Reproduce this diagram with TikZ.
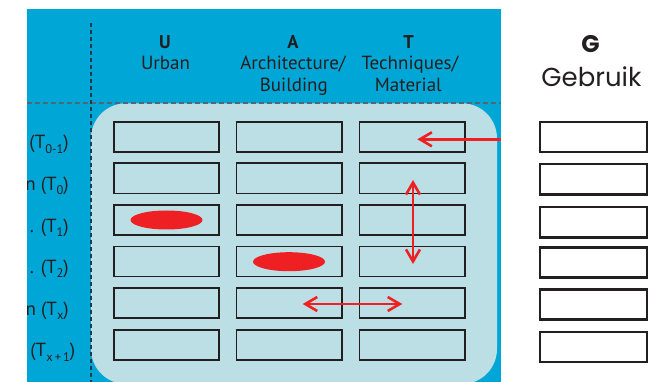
\documentclass[tikz,border=0pt]{standalone}
\usepackage{fontspec}
\setmainfont{PT Sans}
\newfontfamily\gfont{Poppins}
\usetikzlibrary{shapes.geometric,arrows.meta}
\definecolor{bgblue}{HTML}{00A6D6}
\definecolor{panel}{HTML}{BBDFE4}
\definecolor{redc}{HTML}{EE2024}
\definecolor{ink}{HTML}{231F20}
\definecolor{guidedark}{RGB}{30,60,75}
\definecolor{guidegray}{RGB}{75,105,118}
\newcommand\lowsub[1]{\raisebox{-0.45ex}{\fontsize{12.5}{13}\selectfont #1}}
\begin{document}
\begin{tikzpicture}[x=1pt,y=-1pt,
  cell/.style={draw=ink, line width=1.6pt, fill=panel, minimum width=105.3pt, minimum height=30.1pt, inner sep=0pt},
  gcell/.style={draw=ink, line width=2.4pt, fill=white, minimum width=106.6pt, minimum height=30.3pt, inner sep=0pt},
  blob/.style={ellipse, fill=redc, draw=none, minimum width=72pt, minimum height=19pt, inner sep=0pt},
  redarrow/.style={draw=redc, line width=2.6pt, arrows={-Straight Barb[length=12pt,width=14pt]}},
  redarrows/.style={draw=redc, line width=2.6pt, arrows={Straight Barb[length=12pt,width=14pt]-Straight Barb[length=12pt,width=14pt]}},
  head/.style={anchor=base, inner sep=0pt, text=ink, font=\fontsize{19}{22}\selectfont},
  headb/.style={anchor=base, inner sep=0pt, text=ink, font=\fontsize{18.5}{22}\selectfont\bfseries},
  rowlab/.style={anchor=base east, inner sep=0pt, text=ink, font=\fontsize{19}{22}\selectfont}
]
\useasboundingbox (0,0) rectangle (657,382);
% backgrounds
\fill[bgblue] (27,9) rectangle (501,382);
\fill[panel, rounded corners=35pt] (91,103.3) rectangle (497,384);
% dashed guide lines
\draw[draw=guidegray, line width=1.8pt, dash pattern=on 5pt off 3pt] (27,102.7) -- (501,102.7);
\draw[draw=guidedark, line width=1.8pt, dash pattern=on 4pt off 3pt] (90.7,23) -- (90.7,382);
% headers
\node[headb] (hU) at (165,48.3) {U};
\node[head] (hU2) at (165.5,70) {Urban};
\node[headb] (hA) at (293,48.3) {A};
\node[head] (hA2) at (293,70) {Architecture/};
\node[head] (hA3) at (293.8,91.7) {Building};
\node[headb] (hT) at (408.7,48.3) {T};
\node[head] (hT2) at (410,70) {Techniques/};
\node[head] (hT3) at (408.3,91.7) {Material};
\node[anchor=base, inner sep=0pt, text=ink, font=\gfont\fontsize{24}{28}\selectfont\bfseries] (hG) at (590.5,52.7) {G};
\node[anchor=base, inner sep=0pt, text=ink, font=\gfont\fontsize{26}{30}\selectfont] (hG2) at (591.5,86.7) {Gebruik};
% row labels (clipped at the blue edge)
\begin{scope}
\clip (27,9) rectangle (90,382);
\node[rowlab] (l1) at (69,148.8) {(T\lowsub{0-1})};
\node[rowlab] (l2) at (69,190.3) {n (T\lowsub{0})};
\node[rowlab] (l3) at (69,232.2) {. (T\lowsub{1})};
\node[rowlab] (l4) at (69,273.5) {. (T\lowsub{2})};
\node[rowlab] (l5) at (69,315.2) {n (T\lowsub{x})};
\node[rowlab] (l6) at (75.5,356.8) {(T\lowsub{x\,+\,1})};
\end{scope}
% grid cells
\foreach \r/\y in {1/136.8,2/178.3,3/220.2,4/261.5,5/303.2,6/344.8}{
  \node[cell] (u\r) at (166.5,\y) {};
  \node[cell] (a\r) at (289.2,\y) {};
  \node[cell] (t\r) at (412.3,\y) {};
}
\foreach \r/\y in {1/137,2/179.3,3/222.2,4/262.5,5/304.5,6/347}{
  \node[gcell] (g\r) at (593.5,\y) {};
}
% red marks
\node[blob] (e1) at (166.5,220) {};
\node[blob] (e2) at (289,261.7) {};
% red arrows
\coordinate (s1) at (501,139.3);
\coordinate (e1a) at (417.3,139.3);
\draw[redarrow] (s1) -- (e1a);
\coordinate (v1) at (413,180);
\coordinate (v2) at (413,264);
\draw[redarrows] (v1) -- (v2);
\coordinate (h1) at (302.7,304);
\coordinate (h2) at (402.3,304);
\draw[redarrows] (h1) -- (h2);
\end{tikzpicture}
\end{document}
